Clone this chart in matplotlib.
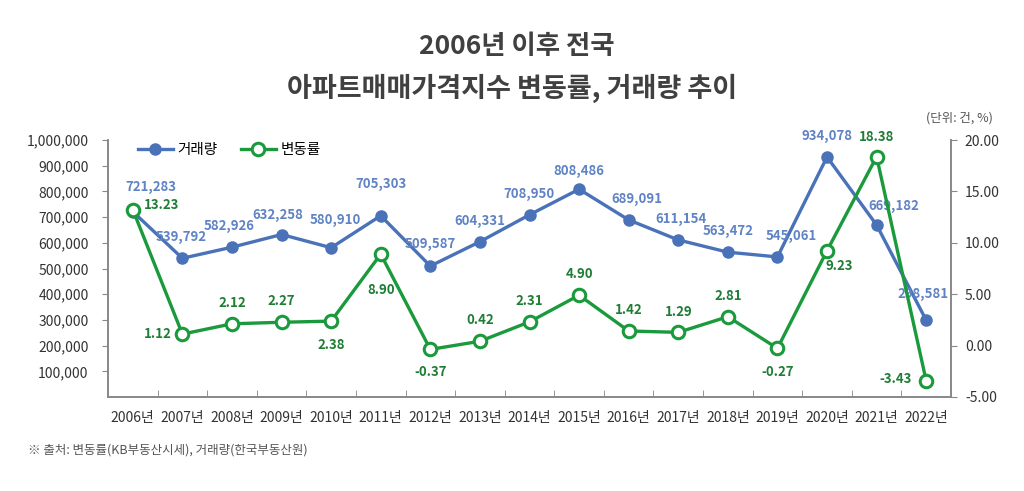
import numpy as np
import matplotlib
matplotlib.use('Agg')
import matplotlib.pyplot as plt
from matplotlib.lines import Line2D
from matplotlib.ticker import FuncFormatter, FixedLocator

plt.rcParams['font.family'] = ['Noto Sans CJK KR', 'DejaVu Sans']

# data
years = ['2006년', '2007년', '2008년', '2009년', '2010년', '2011년', '2012년', '2013년', '2014년',
         '2015년', '2016년', '2017년', '2018년', '2019년', '2020년', '2021년', '2022년']
volume = [721283, 539792, 582926, 632258, 580910, 705303, 509587, 604331, 708950,
          808486, 689091, 611154, 563472, 545061, 934078, 669182, 298581]
change = [13.23, 1.12, 2.12, 2.27, 2.38, 8.90, -0.37, 0.42, 2.31,
          4.90, 1.42, 1.29, 2.81, -0.27, 9.23, 18.38, -3.43]

# label offsets in points (dx, dy)
vol_off = [(13, 18), (-1, 15), (-2, 15), (-3, 14), (3, 20), (0, 23), (0, 16), (0, 15), (0, 15),
           (0, 13), (6, 15), (2, 15), (0, 15), (10, 15), (0, 15), (12, 14), (-2, 19)]
chg_off = [(21, 3), (-18, 0), (0, 15), (0, 15), (0, -17), (0, -26), (0, -16), (0, 15), (0, 15),
           (0, 15), (0, 15), (0, 15), (0, 15), (0, -17), (9, -11), (0, 14), (-22, 1)]

blue = '#4a72b8'
green = '#1a9a3c'
blue_txt = '#5f83c4'
green_txt = '#1f7d34'
gray = '#888888'

fig = plt.figure(figsize=(10.24, 4.91), dpi=100)
ax = fig.add_axes([108/1024, 1-397/491, (951-108)/1024, (397-140)/491])
ax2 = ax.twinx()

x = np.arange(len(years))
ax.plot(x, volume, color=blue, lw=2.4, marker='o', ms=8, mfc=blue, mec=blue, zorder=3)
ax2.plot(x, change, color=green, lw=2.4, marker='o', ms=9, mfc='white', mec=green, mew=2.2, zorder=3)

for i in range(len(x)):
    ax.annotate(f'{volume[i]:,}', (x[i], volume[i]), xytext=vol_off[i], textcoords='offset points',
                ha='center', va='center', fontsize=9.5, color=blue_txt, fontweight='bold')
    ax2.annotate(f'{change[i]:.2f}', (x[i], change[i]), xytext=chg_off[i], textcoords='offset points',
                 ha='center', va='center', fontsize=9.5, color=green_txt, fontweight='bold')

ax.set_xlim(-0.5, len(years) - 0.5)
ax.set_ylim(0, 1000000)
ax2.set_ylim(-5, 20)

ax.set_yticks(np.arange(100000, 1000001, 100000))
ax.yaxis.set_major_formatter(FuncFormatter(lambda v, p: f'{int(v):,}'))
ax2.set_yticks(np.arange(-5, 21, 5))
ax2.yaxis.set_major_formatter(FuncFormatter(lambda v, p: f'{v:.2f}'))

ax.set_xticks(x)
ax.set_xticklabels(years)
ax.xaxis.set_minor_locator(FixedLocator(np.arange(-0.5, len(years), 1)))
ax.tick_params(axis='x', which='major', length=0, pad=10, labelsize=10, colors='#333333')
ax.tick_params(axis='x', which='minor', length=5, color=gray, direction='in')
ax.tick_params(axis='y', length=4, color=gray, labelsize=10, labelcolor='#333333', pad=10)
ax2.tick_params(axis='y', length=4, color=gray, labelsize=10, labelcolor='#333333', pad=6)

for a in (ax, ax2):
    a.spines['top'].set_visible(False)
    for s in ('left', 'right', 'bottom'):
        a.spines[s].set_color(gray)
        a.spines[s].set_linewidth(1.2)

handles = [Line2D([0], [0], color=blue, lw=2.4, marker='o', ms=8, mfc=blue, mec=blue),
           Line2D([0], [0], color=green, lw=2.4, marker='o', ms=9, mfc='white', mec=green, mew=2.2)]
ax.legend(handles, ['거래량', '변동률'], loc='upper left', bbox_to_anchor=(0.02, 1.04), ncol=2,
          frameon=False, fontsize=10.5, handlelength=2.4, columnspacing=1.6, handletextpad=0.3)

fig.text(0.505, 0.905, '2006년 이후 전국', ha='center', va='center', fontsize=19,
         fontweight='bold', color='#404040')
fig.text(0.5, 0.82, '아파트매매가격지수 변동률, 거래량 추이', ha='center', va='center', fontsize=19.5,
         fontweight='bold', color='#404040')
fig.text(0.937, 0.76, '(단위: 건, %)', ha='center', va='center', fontsize=9, color='#555555')
fig.text(0.027, 0.083, '※ 출처: 변동률(KB부동산시세), 거래량(한국부동산원)', ha='left', va='center',
         fontsize=9, color='#555555')

fig.savefig('out.png', dpi=100, facecolor='white')
